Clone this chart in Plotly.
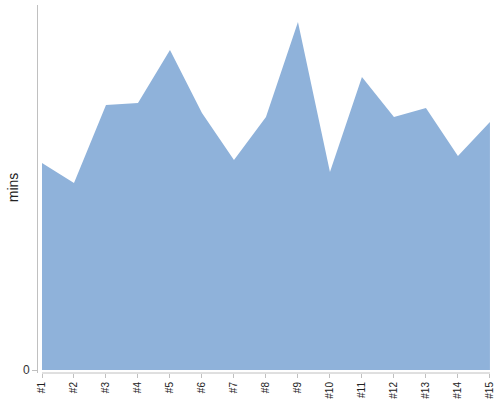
import plotly.graph_objects as go

categories = ["#1", "#2", "#3", "#4", "#5", "#6", "#7", "#8", "#9", "#10",
              "#11", "#12", "#13", "#14", "#15"]
mins = [20.7, 18.7, 26.5, 26.7, 32.0, 25.7, 21.0, 25.3, 34.8, 19.8,
        29.3, 25.3, 26.2, 21.4, 24.8]
y_ticks = [0]
y_tick_labels = ["0"]
y_title = "mins"

xs = list(range(len(categories)))
fig = go.Figure()
fig.add_trace(go.Scatter(
    x=xs, y=mins, mode="lines", fill="tozeroy",
    line=dict(width=0, color="#8fb2da"),
    fillcolor="#8fb2da", hoverinfo="skip", showlegend=False,
))

axis_color = "#c0c0c0"
fig.update_layout(
    width=500, height=400,
    margin=dict(l=38, r=10, t=5, b=27),
    paper_bgcolor="white", plot_bgcolor="white",
    font=dict(family="Liberation Sans, Arial, sans-serif", color="#333"),
    xaxis=dict(
        range=[-0.125, len(categories) - 1 + 0.002], tickmode="array",
        tickvals=xs, ticktext=categories, tickangle=-90,
        ticks="outside", ticklen=4, tickcolor=axis_color,
        tickfont=dict(size=10, color="#222"), automargin=False,
        showgrid=False, zeroline=False, showline=False, fixedrange=True,
    ),
    yaxis=dict(
        range=[-0.3, 36.5], tickmode="array", tickvals=y_ticks,
        ticktext=y_tick_labels, ticks="outside", ticklen=5,
        tickcolor=axis_color, tickfont=dict(size=12, color="#333"),
        showgrid=False, zeroline=False, showline=True, automargin=False,
        linecolor=axis_color, linewidth=1, fixedrange=True,
    ),
    annotations=[dict(
        text=y_title, textangle=-90, xref="paper", yref="paper",
        x=-0.056, y=0.504, xanchor="center", yanchor="middle",
        showarrow=False, font=dict(size=14, color="#222"),
    )],
)
# x axis baseline spanning the category extent
fig.add_shape(type="line", xref="x", yref="paper",
              x0=xs[0], x1=xs[-1], y0=0, y1=0,
              line=dict(color=axis_color, width=1))
fig.write_html("out.html", config={"displayModeBar": False},
               post_script="document.body.style.margin='0';document.body.style.overflow='hidden';")
